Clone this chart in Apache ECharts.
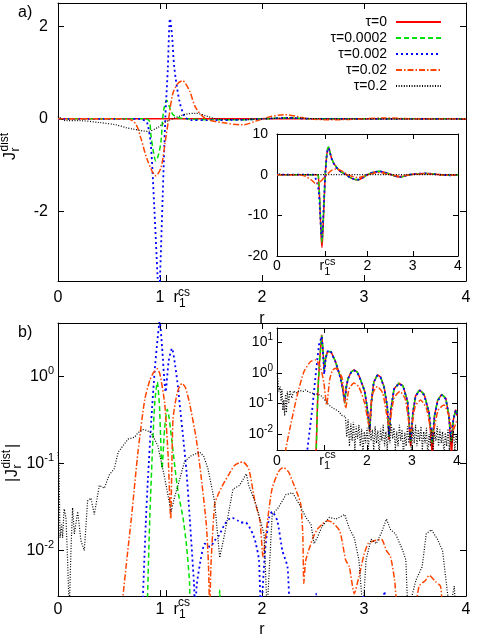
<!DOCTYPE html>
<html><head><meta charset="utf-8">
<script src="https://cdn.jsdelivr.net/npm/echarts@6/dist/echarts.min.js"></script>
<style>html,body{margin:0;padding:0;background:#fff}#c{width:480px;height:639px}</style>
</head><body><div id="c"></div>
<script>
const FONT = 'Liberation Sans';
const R1CS = 1.06;
const NAMES = ['τ=0','τ=0.0002','τ=0.002','τ=0.02','τ=0.2'];
const X_TICKS_MAIN = [0,1,R1CS,2,3,4];
const X_LABELS_INSET = [0,R1CS,2,3,4];
const X_TICKS_INSET = [R1CS,2,3];
const Y_TICKS_A = [-2,0,2];
const Y_TICKS_IA = [-20,-10,0,10];
const Y_TICKS_B = [0.01,0.1,1];
const Y_TICKS_IB = [0.01,0.1,1,10];

// ---- panel a (main): J_r^dist, pairs [r, value]
const aT0 = [[0,0],[4,0]];
const aT00002 = [[0,0],[0.85,0],[0.895,-0.04],[0.91,-0.33],[0.934,-0.69],[0.96,-0.91],[0.987,-0.76],[1.01,-0.48],[1.026,0],[1.042,0.25],[1.065,0.40],[1.09,0.27],[1.124,0.1],[1.17,0.03],[1.25,0],[1.5,-0.02],[1.8,-0.02],[2.0,0],[2.25,0.02],[2.5,0],[4,0]];
const aT0002 = [[0,0],[0.8,0],[0.86,-0.05],[0.879,-0.12],[0.91,-0.55],[0.944,-1.92],[0.977,-3.43],[0.99,-3.9],[1.0,-3.43],[1.026,-1.7],[1.052,0],[1.077,1.1],[1.098,2.16],[1.118,1.8],[1.14,1.11],[1.19,0.39],[1.24,0.06],[1.3,-0.03],[1.5,-0.03],[1.8,-0.02],[2.0,0],[2.25,0.02],[2.5,0],[4,0]];
const aT002 = [[0,0],[0.6,0],[0.7,-0.01],[0.765,-0.12],[0.81,-0.40],[0.88,-0.91],[0.96,-1.23],[1.01,-1.05],[1.052,-0.48],[1.085,0],[1.124,0.53],[1.17,0.75],[1.22,0.82],[1.29,0.6],[1.35,0.24],[1.45,0],[1.61,-0.08],[1.81,-0.13],[1.94,-0.05],[2.05,0.03],[2.22,0.09],[2.35,0.05],[2.45,0],[2.7,-0.02],[3.0,0],[3.2,0.02],[3.5,0],[4,0]];
const aT02 = [[0,0.03],[0.01,0.05],[0.03,0],[0.08,-0.04],[0.21,-0.04],[0.405,-0.08],[0.57,-0.13],[0.667,-0.19],[0.73,-0.22],[0.83,-0.26],[0.88,-0.27],[0.976,-0.19],[1.06,-0.06],[1.157,0.03],[1.255,0.10],[1.353,0.12],[1.45,0.065],[1.55,0],[1.8,-0.02],[2.0,0],[2.3,0.02],[2.6,0],[4,0]];

// ---- panel a (inset)
const iaT0 = [[0,0],[0.9,0],[0.918,-1],[0.95,-8],[0.975,-15],[0.993,-17.9],[1.01,-15],[1.04,-7],[1.067,0],[1.095,4.3],[1.12,6.3],[1.141,6.7],[1.17,5.5],[1.21,3.9],[1.267,2.6],[1.378,1.0],[1.526,0],[1.65,-0.9],[1.785,-1.3],[1.9,-0.7],[2.0,0],[2.13,0.6],[2.27,0.8],[2.4,0.5],[2.526,0],[2.71,-0.6],[2.93,0],[3.1,0.2],[3.3,0.3],[3.45,0.15],[3.6,0],[3.82,-0.15],[4,0]];
const iaT00002 = [[0,0],[0.9,0],[0.918,-1],[0.95,-7.5],[0.975,-14],[0.993,-16.6],[1.01,-14],[1.04,-6.5],[1.067,0],[1.095,4.4],[1.12,6.4],[1.141,6.8],[1.17,5.6],[1.21,3.9],[1.267,2.6],[1.378,1.0],[1.526,0],[1.65,-0.9],[1.785,-1.25],[1.9,-0.7],[2.0,0],[2.13,0.6],[2.27,0.85],[2.4,0.5],[2.526,0],[2.71,-0.6],[2.93,0],[3.1,0.2],[3.3,0.3],[3.45,0.15],[3.6,0],[3.82,-0.15],[4,0]];
const iaT0002 = [[0,0],[0.8,0],[0.82,-0.3],[0.874,-1.5],[0.92,-4],[0.95,-9],[0.975,-14],[0.993,-15.4],[1.01,-13],[1.04,-6],[1.067,0],[1.095,4.2],[1.12,6.1],[1.141,6.5],[1.17,5.4],[1.21,3.8],[1.267,2.5],[1.378,1.0],[1.526,0],[1.65,-0.9],[1.785,-1.2],[1.9,-0.7],[2.0,0],[2.13,0.6],[2.27,0.8],[2.4,0.5],[2.526,0],[2.71,-0.55],[2.93,0],[3.1,0.2],[3.3,0.3],[3.45,0.15],[3.6,0],[3.82,-0.15],[4,0]];
const iaT002 = [[0,0],[0.5,0],[0.6,-0.3],[0.75,-1.2],[0.86,-2.2],[0.95,-1.8],[1.05,-0.6],[1.1,0],[1.2,1.0],[1.3,1.4],[1.42,1.0],[1.53,0.25],[1.65,-0.4],[1.78,-0.7],[1.95,-0.3],[2.05,0.1],[2.25,0.5],[2.45,0.1],[2.6,-0.2],[2.75,-0.35],[2.95,0],[3.25,0.2],[3.6,0],[3.85,-0.1],[4,0]];
const iaT02 = [[0,0.6],[0.03,0.2],[0.08,0],[4,0]];

// ---- panel b (main): |J_r^dist|
const bT00002 = [[0.87,0.001],[0.878,0.003],[0.9,0.024],[0.925,0.135],[0.948,0.49],[0.974,0.86],[0.995,0.45],[1.02,0.087],[1.045,0.25],[1.072,0.42],[1.09,0.33],[1.111,0.207],[1.144,0.095],[1.176,0.048],[1.225,0.024],[1.258,0.012],[1.29,0.0042],[1.3,0.001],[1.57,0.001],[1.585,0.0035],[1.6,0.001]];
const bT0002 = [[0.82,0.001],[0.833,0.003],[0.86,0.02],[0.882,0.068],[0.915,0.32],[0.948,1.17],[0.975,2.6],[0.997,4.3],[1.02,2.2],[1.055,0.66],[1.085,1.5],[1.118,2.1],[1.15,1.3],[1.176,0.76],[1.2,0.4],[1.225,0.21],[1.26,0.08],[1.29,0.025],[1.333,0.0042],[1.345,0.002],[1.36,0.004],[1.4,0.008],[1.44,0.012],[1.49,0.011],[1.536,0.013],[1.58,0.015],[1.634,0.02],[1.70,0.024],[1.765,0.022],[1.79,0.021],[1.84,0.021],[1.91,0.0155],[1.94,0.012],[1.97,0.0078],[1.99,0.002],[2.03,0.01],[2.07,0.024],[2.10,0.028],[2.15,0.022],[2.20,0.01],[2.25,0.0065],[2.28,0.002],[2.4,0.001],[2.5,0.0026],[2.53,0.0032],[2.56,0.001],[2.96,0.001],[2.99,0.0031],[3.02,0.001],[3.17,0.001],[3.2,0.0034],[3.23,0.001]];
const bT002 = [[0.6,0.001],[0.637,0.003],[0.68,0.009],[0.72,0.024],[0.784,0.135],[0.85,0.54],[0.9,0.9],[0.935,1.1],[0.974,1.22],[1.0,1.05],[1.046,0.49],[1.08,0.12],[1.105,0.023],[1.115,0.08],[1.127,0.32],[1.15,0.5],[1.176,0.69],[1.216,0.83],[1.25,0.74],[1.29,0.49],[1.356,0.19],[1.405,0.068],[1.454,0.02],[1.475,0.007],[1.487,0.002],[1.5,0.007],[1.536,0.034],[1.57,0.044],[1.62,0.058],[1.667,0.072],[1.73,0.095],[1.78,0.102],[1.814,0.104],[1.87,0.087],[1.93,0.037],[1.98,0.022],[2.01,0.0085],[2.04,0.016],[2.07,0.031],[2.10,0.052],[2.16,0.08],[2.21,0.09],[2.26,0.08],[2.30,0.062],[2.35,0.044],[2.38,0.034],[2.40,0.0155],[2.41,0.0042],[2.43,0.0078],[2.50,0.014],[2.54,0.0174],[2.59,0.02],[2.64,0.022],[2.69,0.021],[2.76,0.017],[2.79,0.012],[2.82,0.0078],[2.856,0.0065],[2.905,0.0032],[2.95,0.005],[3.0,0.009],[3.04,0.012],[3.09,0.0129],[3.17,0.0135],[3.22,0.01],[3.26,0.0085],[3.30,0.0046],[3.33,0.002],[3.45,0.001],[3.54,0.0039],[3.6,0.0045],[3.64,0.0052],[3.70,0.0044],[3.75,0.0039],[3.77,0.002],[3.8,0.001]];
const bT02 = [[0,0.135],[0.01,0.09],[0.02,0.014],[0.035,0.02],[0.045,0.014],[0.06,0.03],[0.078,0.024],[0.094,0.0078],[0.11,0.002],[0.127,0.01],[0.143,0.031],[0.16,0.0155],[0.193,0.028],[0.225,0.013],[0.258,0.01],[0.29,0.037],[0.323,0.04],[0.356,0.026],[0.405,0.056],[0.454,0.052],[0.503,0.074],[0.552,0.087],[0.59,0.135],[0.686,0.19],[0.75,0.2],[0.784,0.224],[0.833,0.245],[0.87,0.24],[0.915,0.224],[0.98,0.158],[1.046,0.068],[1.095,0.034],[1.11,0.028],[1.14,0.04],[1.176,0.056],[1.24,0.105],[1.307,0.123],[1.39,0.135],[1.43,0.12],[1.47,0.087],[1.536,0.036],[1.585,0.0083],[1.634,0.0155],[1.716,0.051],[1.78,0.056],[1.846,0.076],[1.87,0.056],[1.94,0.034],[2.02,0.0155],[2.05,0.002],[2.10,0.026],[2.16,0.031],[2.235,0.044],[2.30,0.046],[2.366,0.034],[2.43,0.024],[2.48,0.02],[2.51,0.012],[2.54,0.014],[2.59,0.019],[2.66,0.024],[2.725,0.023],[2.81,0.026],[2.856,0.018],[2.905,0.014],[2.95,0.0078],[2.99,0.002],[3.02,0.0078],[3.07,0.0135],[3.12,0.012],[3.17,0.016],[3.22,0.023],[3.26,0.0174],[3.31,0.0155],[3.38,0.01],[3.41,0.0078],[3.43,0.002],[3.51,0.0046],[3.57,0.0065],[3.61,0.0155],[3.66,0.0174],[3.72,0.0135],[3.77,0.01],[3.80,0.005],[3.84,0.002],[3.885,0.0039],[3.9,0.002]];

// ---- panel b (inset): |J_r|
const ibT0 = [[0.86,0.001],[0.88,0.01],[0.91,0.3],[0.95,3],[0.993,17.8],[1.02,6],[1.05,1.1],[1.08,3],[1.12,5],[1.156,5.8],[1.2,5],[1.3,2.4],[1.415,0.68],[1.46,0.3],[1.504,0.11],[1.54,0.35],[1.578,0.65],[1.65,1.1],[1.711,1.26],[1.78,1.1],[1.844,0.68],[1.95,0.25],[2.0,0.08],[2.059,0.012],[2.1,0.12],[2.15,0.5],[2.23,0.87],[2.3,0.75],[2.38,0.35],[2.45,0.08],[2.49,0.0065],[2.53,0.06],[2.6,0.3],[2.71,0.47],[2.8,0.38],[2.9,0.12],[2.97,0.004],[3.02,0.05],[3.08,0.18],[3.17,0.28],[3.27,0.2],[3.38,0.05],[3.45,0.002],[3.5,0.04],[3.57,0.13],[3.66,0.2],[3.75,0.15],[3.82,0.04],[3.88,0.002],[3.92,0.03],[3.97,0.063],[4.0,0.04]];
const ibT00002 = [[0.865,0.001],[0.885,0.012],[0.91,0.28],[0.95,2.9],[0.993,17],[1.02,6.2],[1.05,1.2],[1.08,3.1],[1.12,5.1],[1.156,5.9],[1.2,5.1],[1.3,2.4],[1.415,0.7],[1.46,0.3],[1.504,0.1],[1.54,0.36],[1.578,0.66],[1.65,1.1],[1.711,1.25],[1.78,1.1],[1.844,0.7],[1.95,0.25],[2.0,0.08],[2.059,0.014],[2.1,0.12],[2.15,0.5],[2.23,0.85],[2.3,0.75],[2.38,0.35],[2.45,0.08],[2.49,0.008],[2.53,0.06],[2.6,0.3],[2.71,0.46],[2.8,0.38],[2.9,0.12],[2.97,0.006],[3.02,0.05],[3.08,0.18],[3.17,0.28],[3.27,0.2],[3.38,0.05],[3.45,0.005],[3.5,0.04],[3.57,0.13],[3.66,0.2],[3.75,0.15],[3.82,0.04],[3.87,0.006],[3.92,0.03],[3.97,0.06],[4.0,0.05]];
const ibT0002 = [[0.65,0.001],[0.674,0.003],[0.785,0.07],[0.859,0.87],[0.933,8.4],[0.993,16],[1.02,5.5],[1.05,0.9],[1.08,2.9],[1.12,4.9],[1.156,5.7],[1.2,4.9],[1.3,2.3],[1.415,0.66],[1.46,0.3],[1.504,0.12],[1.54,0.34],[1.578,0.64],[1.65,1.08],[1.711,1.22],[1.78,1.08],[1.844,0.66],[1.95,0.25],[2.0,0.08],[2.059,0.015],[2.1,0.12],[2.15,0.5],[2.23,0.84],[2.3,0.73],[2.38,0.34],[2.45,0.08],[2.49,0.009],[2.53,0.06],[2.6,0.3],[2.71,0.45],[2.8,0.37],[2.9,0.12],[2.97,0.006],[3.02,0.05],[3.08,0.17],[3.17,0.27],[3.27,0.19],[3.38,0.05],[3.45,0.006],[3.5,0.04],[3.57,0.12],[3.66,0.19],[3.75,0.14],[3.82,0.04],[3.86,0.008],[3.92,0.03],[3.97,0.06],[4.0,0.045]];
const ibT002 = [[0.17,0.001],[0.193,0.003],[0.304,0.02],[0.452,0.195],[0.6,1.12],[0.748,2.4],[0.859,2.7],[0.97,1.45],[1.04,0.5],[1.104,0.09],[1.17,0.6],[1.23,1.2],[1.30,1.45],[1.38,1.1],[1.45,0.66],[1.526,0.07],[1.6,0.3],[1.711,0.47],[1.82,0.35],[1.95,0.1],[2.04,0.02],[2.12,0.2],[2.23,0.36],[2.35,0.22],[2.49,0.02],[2.6,0.15],[2.73,0.25],[2.85,0.14],[2.97,0.012],[3.07,0.08],[3.19,0.13],[3.32,0.07],[3.45,0.0093],[3.58,0.06],[3.71,0.09],[3.82,0.04],[3.9,0.012],[4.0,0.03]];
const ibT02 = [[0,1.0],[0.02,0.6],[0.04,0.25],[0.07,0.36],[0.09,0.12],[0.11,0.3],[0.13,0.06],[0.15,0.13],[0.17,0.04],[0.19,0.2],[0.21,0.05],[0.23,0.25],[0.26,0.1],[0.29,0.27],[0.33,0.15],[0.37,0.26],[0.42,0.22],[0.5,0.27],[0.58,0.25],[0.63,0.28],[0.7,0.24],[0.78,0.22],[0.85,0.19],[0.9,0.21],[1.0,0.17],[1.08,0.12],[1.15,0.09],[1.25,0.07],[1.37,0.055],[1.45,0.04],[1.52,0.038],[1.55,0.008],[1.58,0.03],[1.61,0.004],[1.64,0.022],[1.67,0.006],[1.70,0.025],[1.73,0.003],[1.76,0.018],[1.79,0.007],[1.82,0.02],[1.85,0.004],[1.88,0.015],[1.91,0.002],[1.94,0.012],[1.97,0.005],[2.0,0.016],[2.03,0.003],[2.06,0.02],[2.09,0.006],[2.12,0.014],[2.15,0.003],[2.18,0.018],[2.21,0.005],[2.24,0.013],[2.27,0.002],[2.30,0.015],[2.33,0.006],[2.36,0.02],[2.39,0.004],[2.42,0.012],[2.45,0.003],[2.48,0.017],[2.51,0.005],[2.54,0.022],[2.57,0.007],[2.60,0.016],[2.63,0.003],[2.66,0.012],[2.69,0.004],[2.72,0.02],[2.75,0.006],[2.78,0.014],[2.81,0.002],[2.84,0.011],[2.87,0.004],[2.90,0.018],[2.93,0.005],[2.96,0.012],[2.99,0.002],[3.02,0.016],[3.05,0.005],[3.08,0.02],[3.11,0.004],[3.14,0.014],[3.17,0.006],[3.20,0.018],[3.23,0.003],[3.26,0.012],[3.29,0.005],[3.32,0.016],[3.35,0.002],[3.38,0.01],[3.41,0.004],[3.44,0.015],[3.47,0.003],[3.50,0.012],[3.53,0.006],[3.56,0.018],[3.59,0.004],[3.62,0.014],[3.65,0.005],[3.68,0.012],[3.71,0.002],[3.74,0.011],[3.77,0.004],[3.80,0.015],[3.83,0.003],[3.86,0.01],[3.89,0.005],[3.92,0.013],[3.95,0.003],[3.98,0.009],[4.0,0.005]];

// ---------------- styling & construction ----------------
const COLORS = ['#ff0000','#00e000','#0000ff','#ff4500','#000000'];
const DASH = ['solid',[5,3],[2,3],[6,2,1.5,2],[1,1.6]];
const WIDTH = [1.5,1.5,1.8,1.5,1.2];

function axisBase(grid, pos, min, max, type, tickVals, tickLen) {
  const a = {type, gridIndex: grid, position: pos, min, max,
    splitLine:{show:false}, splitArea:{show:false}, minorTick:{show:false},
    axisLine:{show:true, onZero:false, lineStyle:{color:'#000', width:1}},
    axisTick:{show:true, inside:true, length:tickLen, customValues:tickVals, lineStyle:{color:'#000', width:1}},
    axisLabel:{show:false}};
  if (type === 'log') a.logBase = 10;
  return a;
}
function xLabels(vals, fontSize, margin, subFont, subShift, padW) {
  return {show:true, customValues: vals, margin, fontSize, fontFamily:FONT, color:'#000',
    formatter: v => Math.abs(v - R1CS) < 1e-6 ? (padW ? '{pad| }' : '') + '{r|r}{sub|1}' : String(v),
    rich: {
      pad:{width: padW || 1, fontSize},
      r:{fontSize, fontFamily:FONT, color:'#000', lineHeight:fontSize},
      sub:{fontSize:subFont, fontFamily:FONT, color:'#000', lineHeight:fontSize, padding:[subShift*2,0,0,0]}
    }};
}
function csAxis(grid, fontSize, margin, shift) {
  return {type:'value', gridIndex:grid, position:'bottom', min:0, max:4,
    splitLine:{show:false}, axisLine:{show:false}, axisTick:{show:false},
    axisLabel:{show:true, customValues:[R1CS], margin, fontSize, fontFamily:FONT, color:'#000',
      padding:[0,0,0,Math.max(0,2*shift)], formatter: () => 'cs'}};
}
function linLabels(vals, fontSize, margin) {
  return {show:true, customValues: vals, margin, fontSize, fontFamily:FONT, color:'#000'};
}
function logLabels(vals, fontSize, margin, supFont) {
  return {show:true, customValues: vals, margin, fontSize, fontFamily:FONT, color:'#000',
    formatter: v => '10{sup|' + Math.round(Math.log10(v)) + '}',
    rich:{sup:{fontSize:supFont, fontFamily:FONT, color:'#000', lineHeight:fontSize, padding:[0,0,supFont,0]}}};
}

const xAxes = [];
const yAxes = [];
// main a : x 0..2
let ax = axisBase(0,'bottom',0,4,'value',X_TICKS_MAIN,6);
ax.axisLabel = xLabels(X_TICKS_MAIN,16,9,12,6,27);
ax.name = 'r'; ax.nameLocation = 'middle'; ax.nameGap = 18;
ax.nameTextStyle = {fontSize:16, fontFamily:FONT, color:'#000'};
xAxes.push(ax);                                             // 0
xAxes.push(axisBase(0,'top',0,4,'value',X_TICKS_MAIN,6));   // 1
xAxes.push(csAxis(0,12,6,18));                               // 2
// inset a : x 3..5
ax = axisBase(1,'bottom',0,4,'value',X_TICKS_INSET,5);
ax.axisLabel = xLabels(X_LABELS_INSET,14,3.5,11,5.5,0);
xAxes.push(ax);                                             // 3
xAxes.push(axisBase(1,'top',0,4,'value',X_TICKS_INSET,5));  // 4
xAxes.push(csAxis(1,11,0,5));                                // 5
// main b : x 6..8
ax = axisBase(2,'bottom',0,4,'value',X_TICKS_MAIN,6);
ax.axisLabel = xLabels(X_TICKS_MAIN,16,5,12,6,27);
ax.name = 'r'; ax.nameLocation = 'middle'; ax.nameGap = 18;
ax.nameTextStyle = {fontSize:16, fontFamily:FONT, color:'#000'};
xAxes.push(ax);                                             // 6
xAxes.push(axisBase(2,'top',0,4,'value',X_TICKS_MAIN,6));   // 7
xAxes.push(csAxis(2,12,1,18));                               // 8
// inset b : x 9..11
ax = axisBase(3,'bottom',0,4,'value',X_TICKS_INSET,5);
ax.axisLabel = xLabels(X_LABELS_INSET,14,4,11,5,0);
xAxes.push(ax);                                             // 9
xAxes.push(axisBase(3,'top',0,4,'value',X_TICKS_INSET,5));  // 10
xAxes.push(csAxis(3,11,-1,5.5));                             // 11

// y axes
ax = axisBase(0,'left',-3.5,2.5,'value',Y_TICKS_A,6); ax.axisLabel = linLabels(Y_TICKS_A,16,10); yAxes.push(ax); // 0
yAxes.push(axisBase(0,'right',-3.5,2.5,'value',Y_TICKS_A,6));  // 1
ax = axisBase(1,'left',-20,10,'value',Y_TICKS_IA,5); ax.axisLabel = linLabels(Y_TICKS_IA,14,9); yAxes.push(ax); // 2
yAxes.push(axisBase(1,'right',-20,10,'value',Y_TICKS_IA,5));   // 3
ax = axisBase(2,'left',0.003,4.1,'log',Y_TICKS_B,6); ax.axisLabel = logLabels(Y_TICKS_B,16,4,11); yAxes.push(ax); // 4
yAxes.push(axisBase(2,'right',0.003,4.1,'log',Y_TICKS_B,6));   // 5
ax = axisBase(3,'left',0.003,30,'log',Y_TICKS_IB,5); ax.axisLabel = logLabels(Y_TICKS_IB,14,4,10); yAxes.push(ax); // 6
yAxes.push(axisBase(3,'right',0.003,30,'log',Y_TICKS_IB,5));   // 7

function ser(i, xi, yi, data, smooth) {
  return {name: NAMES[i], type:'line', xAxisIndex:xi, yAxisIndex:yi, data, symbol:'none', showSymbol:false,
    smooth: smooth || false, animation:false, clip:true, emphasis:{disabled:true},
    lineStyle:{color:COLORS[i], width:WIDTH[i], type:DASH[i]}, itemStyle:{color:COLORS[i]}};
}
const series = [
  ser(0,0,0,aT0), ser(1,0,0,aT00002,0.3), ser(2,0,0,aT0002,0.3), ser(3,0,0,aT002,0.3), ser(4,0,0,aT02,0.3),
  ser(0,3,2,iaT0,0.3), ser(1,3,2,iaT00002,0.3), ser(2,3,2,iaT0002,0.3), ser(3,3,2,iaT002,0.3), ser(4,3,2,iaT02),
  ser(1,6,4,bT00002,0.2), ser(2,6,4,bT0002,0.2), ser(3,6,4,bT002,0.2), ser(4,6,4,bT02),
  ser(0,9,6,ibT0), ser(1,9,6,ibT00002), ser(2,9,6,ibT0002), ser(3,9,6,ibT002,0.2), ser(4,9,6,ibT02)
];

function tx(text, x, y, size) {
  return {type:'text', x, y, style:{text, fontSize:size, fontFamily:FONT, fill:'#000', verticalAlign:'middle', align:'left'}};
}
const chart = echarts.init(document.getElementById('c'), null, {renderer:'canvas'});
chart.setOption({
  animation:false,
  backgroundColor:'#fff',
  grid:[
    {left:58, top:3, width:408, height:278},
    {left:277, top:134, width:181, height:122, show:true, backgroundColor:'#fff', borderWidth:0},
    {left:58, top:323, width:408, height:277},
    {left:277, top:328, width:180, height:122, show:true, backgroundColor:'#fff', borderWidth:0}
  ],
  xAxis: xAxes,
  yAxis: yAxes,
  legend:{show:true, data:NAMES, orient:'vertical', right:33, top:10, align:'right', itemWidth:45, itemHeight:14, itemGap:2,
    selectedMode:false, textStyle:{fontSize:14, fontFamily:FONT, color:'#000', padding:[0,4,0,0]},
    itemStyle:{color:'rgba(0,0,0,0)', borderColor:'rgba(0,0,0,0)', borderWidth:0, opacity:0}},
  graphic:[
    tx('a)', 18, 13, 16),
    tx('b)', 18, 333, 16),
    {type:'group', x:11, y:160, rotation:Math.PI/2, children:[
      tx('J',0,0,16), tx('r',8.5,5,12), tx('dist',8.5,-6,12)
    ]},
    {type:'group', x:13, y:482, rotation:Math.PI/2, children:[
      tx('|',0,0,16), tx('J',5,0,16), tx('r',13.5,5,12), tx('dist',13.5,-6,12), tx('|',34,0,16)
    ]}
  ],
  series
});
</script></body></html>
